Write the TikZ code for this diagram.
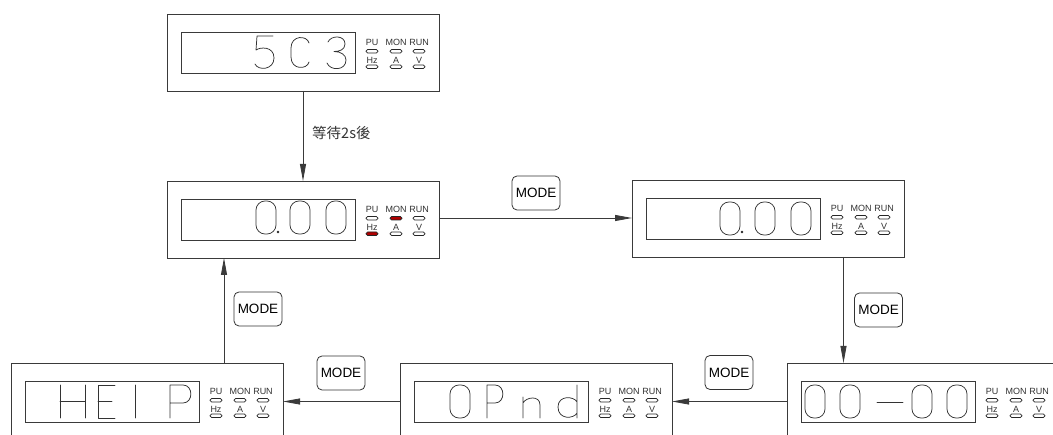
\documentclass[tikz,border=0pt]{standalone}
\usepackage{fontspec}
\setmainfont{Liberation Sans}
\newfontfamily\cjk{Noto Sans CJK TC}
\usetikzlibrary{arrows.meta}
\definecolor{ln}{HTML}{3A3A3A}
\definecolor{ledred}{HTML}{B00000}
\tikzset{
  panelbox/.style={draw=ln, line width=0.9pt, minimum width=272pt, minimum height=77pt, inner sep=0pt, outer sep=0pt},
  disp/.style={draw=ln, line width=0.9pt},
  dig/.style={draw=black!80, line width=0.75pt, line cap=round, line join=round},
  ledlab/.style={font=\fontsize{9}{10}\selectfont, text=black!80, inner sep=0pt},
  led/.style={draw=black!85, line width=0.6pt, rounded corners=1.6pt},
  modebtn/.style={draw=black!80, line width=0.8pt, rounded corners=5pt, minimum width=48pt, minimum height=34pt, inner sep=0pt, font=\fontsize{13.5}{15}\selectfont},
  arr/.style={draw=ln, line width=0.8pt, -{Triangle[length=17pt,width=6pt]}},
}
% panel: name, ox, oy, fill MON led, fill Hz led
\newcommand\panel[5]{%
  \node[panelbox] (#1) at (#2+136,#3+38.5) {};
  \draw[disp] (#2+14,#3+18) rectangle (#2+188,#3+59);
  \node[ledlab] at (#2+205,#3+28) {PU};
  \node[ledlab] at (#2+229,#3+28) {MON};
  \node[ledlab] at (#2+252,#3+28) {RUN};
  \node[ledlab] at (#2+205,#3+46) {Hz};
  \node[ledlab] at (#2+229,#3+46) {A};
  \node[ledlab] at (#2+252,#3+46) {V};
  \draw[led, fill=white] (#2+199,#3+35.5) rectangle (#2+211,#3+39);
  \draw[led, fill=#4] (#2+223,#3+35.5) rectangle (#2+235,#3+39);
  \draw[led, fill=white] (#2+246,#3+35.5) rectangle (#2+258,#3+39);
  \draw[led, fill=#5] (#2+199,#3+51) rectangle (#2+211,#3+54.5);
  \draw[led, fill=white] (#2+223,#3+51) rectangle (#2+235,#3+54.5);
  \draw[led, fill=white] (#2+246,#3+51) rectangle (#2+258,#3+54.5);
}
\newcommand\gZero[2]{\draw[dig, rounded corners=9pt] (#1,#2) rectangle (#1+20,#2+33);}
\newcommand\gFive[2]{\draw[dig] (#1+18,#2) -- (#1+2,#2) -- (#1+1,#2+14) .. controls (#1+5,#2+11) and (#1+19,#2+10) .. (#1+19,#2+22) .. controls (#1+19,#2+34) and (#1+3,#2+35) .. (#1,#2+28);}
\newcommand\gC[2]{\draw[dig] (#1+19,#2+7) .. controls (#1+17,#2-1) and (#1+1,#2-1) .. (#1+1,#2+12) -- (#1+1,#2+21) .. controls (#1+1,#2+34) and (#1+17,#2+34) .. (#1+19,#2+26);}
\newcommand\gThree[2]{\draw[dig] (#1+1,#2+6) .. controls (#1+4,#2-1) and (#1+18,#2-1) .. (#1+18,#2+8) .. controls (#1+18,#2+14) and (#1+12,#2+15.5) .. (#1+7,#2+15.5) .. controls (#1+14,#2+15.5) and (#1+19,#2+19) .. (#1+19,#2+24) .. controls (#1+19,#2+35) and (#1+3,#2+35) .. (#1,#2+27);}
\newcommand\gH[2]{\draw[dig] (#1,#2) -- (#1,#2+33) (#1+25,#2) -- (#1+25,#2+33) (#1,#2+16.5) -- (#1+25,#2+16.5);}
\newcommand\gE[2]{\draw[dig] (#1+17,#2) -- (#1,#2) -- (#1,#2+33) -- (#1+17,#2+33) (#1,#2+16.5) -- (#1+14,#2+16.5);}
\newcommand\gI[2]{\draw[dig] (#1,#2) -- (#1,#2+33);}
\newcommand\gP[3]{\draw[dig] (#1,#2+33) -- (#1,#2) -- (#1+#3-10,#2) .. controls (#1+#3+0.5,#2) and (#1+#3+0.5,#2+18) .. (#1+#3-10,#2+18) -- (#1,#2+18);}
\newcommand\gn[2]{\draw[dig] (#1,#2+12) -- (#1,#2+33) (#1,#2+18) .. controls (#1+3,#2+12) and (#1+17,#2+10) .. (#1+17,#2+20) -- (#1+17,#2+33);}
\newcommand\gd[2]{\draw[dig] (#1+19,#2) -- (#1+19,#2+33) (#1+19,#2+17) .. controls (#1+16,#2+11) and (#1,#2+10) .. (#1,#2+22) .. controls (#1,#2+35) and (#1+16,#2+34) .. (#1+19,#2+28);}
\newcommand\gDot[2]{\fill[black!85] (#1,#2) circle (1.3pt);}
\begin{document}
\begin{tikzpicture}[x=1pt, y=-1pt]
\useasboundingbox (0,0) rectangle (1053,435);
\clip (0,0) rectangle (1053,435);
\fill[white] (0,0) rectangle (1053,435);
% panels
\panel{b1}{167}{14}{white}{white}
\panel{b2}{167}{181}{ledred}{ledred}
\panel{b3}{632}{180}{white}{white}
\panel{b4}{787}{363}{white}{white}
\panel{b5}{400}{363}{white}{white}
\panel{b6}{11}{363}{white}{white}
% digits
\gFive{255}{36}\gC{290}{36}\gThree{327}{36}
\gZero{256}{201}\gDot{278}{232}\gZero{290}{201}\gZero{326}{201}
\gZero{720}{202}\gDot{742}{232}\gZero{755}{202}\gZero{791}{202}
\gZero{805}{385}\gZero{840}{385}\draw[dig] (877,402) -- (903,402);\gZero{912}{385}\gZero{947}{385}
\gZero{450}{385}\gP{487}{385}{18}\gn{523}{385}\gd{558}{385}
\gH{60}{385}\gE{98}{385}\gI{135}{385}\gP{170}{385}{23}
% buttons
\node[modebtn] (m1) at (536,193) {MODE};
\node[modebtn] (m2) at (878.5,310) {MODE};
\node[modebtn] (m3) at (729,372.5) {MODE};
\node[modebtn] (m4) at (341,373) {MODE};
\node[modebtn] (m5) at (258,309) {MODE};
% connectors
\draw[arr] (b1.south) -- (b2.north);
\node[anchor=west, inner sep=0pt, font=\cjk\fontsize{14.5}{16}\selectfont, text=black!80] (w) at (312,133) {等待2s後};
\draw[arr] (b2.east |- 0,218) -- (b3.west |- 0,218);
\draw[arr] ([xshift=75.5pt]b3.south) -- ([xshift=75.5pt]b3.south |- b4.north);
\draw[arr] (b4.west) -- (b5.east);
\draw[arr] (b5.west) -- (b6.east);
\draw[arr] ([xshift=77pt]b6.north) -- ([xshift=77pt]b6.north |- b2.south);
\end{tikzpicture}
\end{document}
